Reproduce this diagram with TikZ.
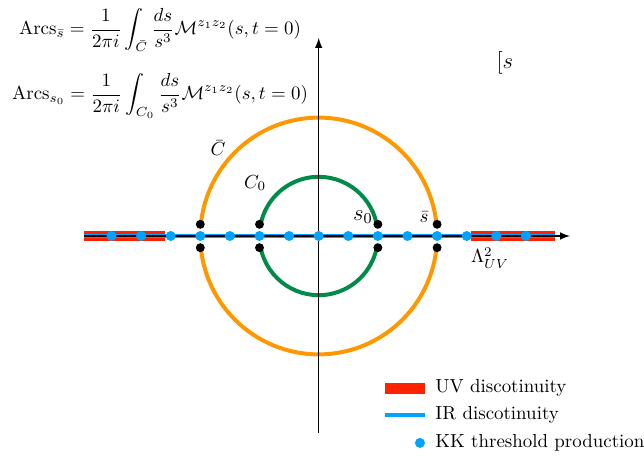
\documentclass[tikz,border=0pt]{standalone}
\usepackage{amsmath}
\definecolor{arcorange}{RGB}{255,152,0}
\definecolor{arcgreen}{RGB}{0,140,72}
\definecolor{irblue}{RGB}{0,163,255}
\definecolor{uvred}{RGB}{255,34,0}
\tikzset{
  uvcut/.style={uvred, line width=5.8pt},
  ircut/.style={irblue, line width=2.1pt},
  kkdot/.style={irblue},
  pole/.style={black},
}
\begin{document}
\begin{tikzpicture}[scale=0.55, line join=round, >=latex]
\useasboundingbox (-10.767,-7.703) rectangle (10.99,7.973);
\coordinate (O) at (0,0);
% contours
\draw[arcorange, line width=2.1pt] (5.67:4) arc (5.67:174.33:4);
\draw[arcorange, line width=2.1pt] (185.67:4) arc (185.67:354.33:4);
\draw[arcgreen, line width=2.1pt] (11.39:2) arc (11.39:168.61:2);
\draw[arcgreen, line width=2.1pt] (191.39:2) arc (191.39:348.61:2);
% cuts
\draw[uvcut] (-7.93,0) -- (-5.2,0);
\draw[uvcut] (5.13,0) -- (8.0,0);
\draw[ircut] (-7.93,0) -- (8.0,0);
% axes
\coordinate (xl) at (-7.93,0);
\coordinate (xr) at (8.49,0);
\coordinate (yb) at (0,-6.66);
\coordinate (yt) at (0,6.69);
\draw[->, line width=0.8pt] (xl) -- (xr);
\draw[->, line width=0.8pt] (yb) -- (yt);
% thresholds
\foreach \k in {-7,...,7}
  \fill[kkdot] (\k,0) circle (4.8pt);
\foreach \k in {-4,-2,2,4}{
  \fill[pole] (\k,0.395) circle (4.3pt);
  \fill[pole] (\k,-0.395) circle (4.3pt);
}
% labels
\node (Cbar) at (-3.4,2.97) {$\bar C$};
\node (Czero) at (-2.15,1.79) {$C_0$};
\node (szero) at (1.49,0.64) {\large $s_0$};
\node (sbar) at (3.56,0.64) {$\bar s$};
\node (LUV) at (5.79,-0.74) {$\Lambda^2_{UV}$};
\node (splane) at (6.29,5.84) {\large $[s$};
\node[inner sep=0pt] (arcsbar) at (-5.36,6.95) {$\text{Arcs}_{\bar s}=\dfrac{1}{2\pi i}\displaystyle\int_{\bar C}\dfrac{ds}{s^3}\mathcal{M}^{z_1z_2}(s,t=0)$};
\node[inner sep=0pt] (arcszero) at (-5.36,4.72) {$\text{Arcs}_{s_0}=\dfrac{1}{2\pi i}\displaystyle\int_{C_0}\dfrac{ds}{s^3}\mathcal{M}^{z_1z_2}(s,t=0)$};
% legend
\draw[uvcut] (2.24,-5.14) -- (3.59,-5.14);
\draw[ircut] (2.24,-6.05) -- (3.59,-6.05);
\fill[kkdot] (3.42,-6.99) circle (4.8pt);
\node[anchor=west] (leguv) at (3.72,-5.14) {UV discotinuity};
\node[anchor=west] (legir) at (3.72,-6.05) {IR discotinuity};
\node[anchor=west] (legkk) at (3.72,-6.99) {KK threshold production};
\end{tikzpicture}
\end{document}
